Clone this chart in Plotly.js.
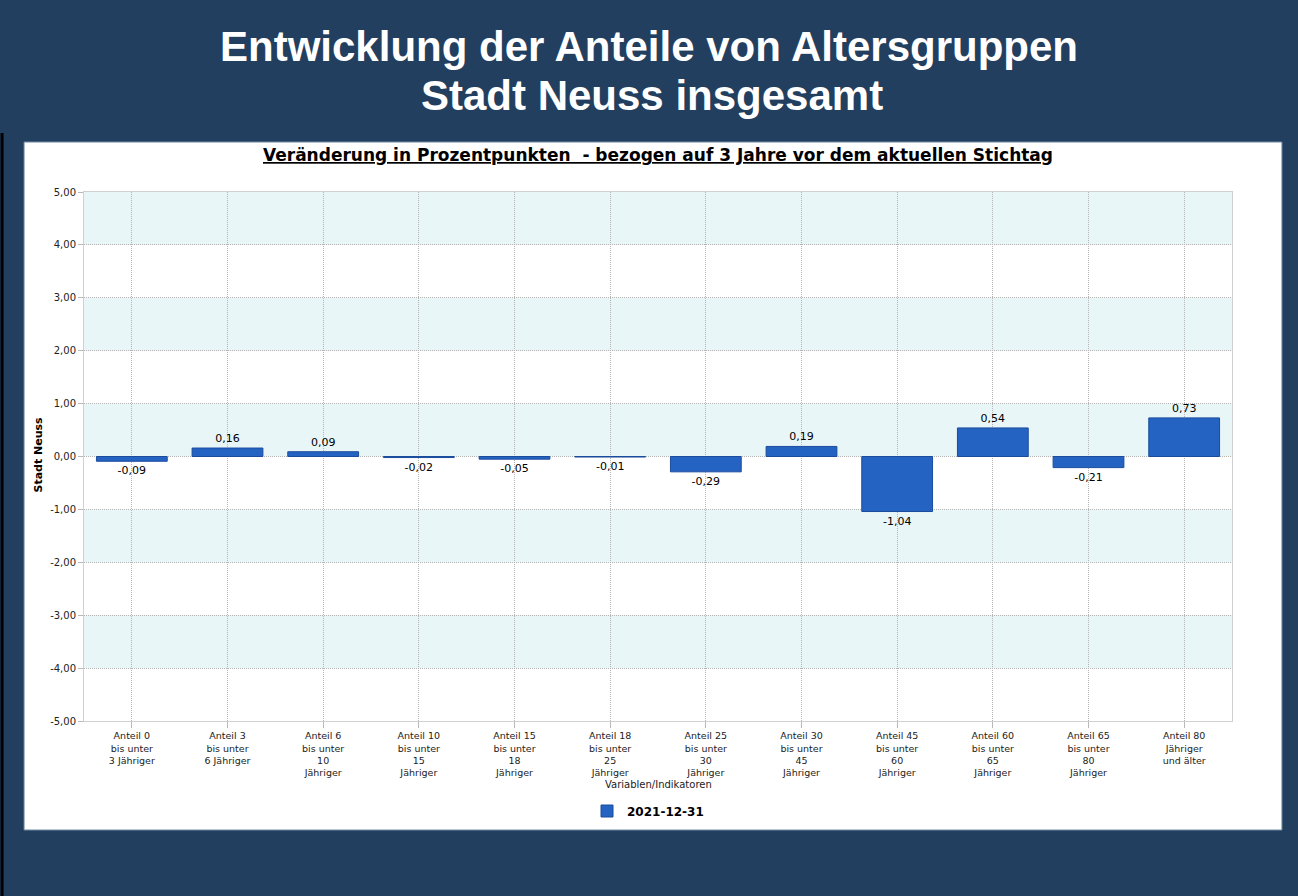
<!DOCTYPE html>
<html>
<head>
<meta charset="utf-8">
<script src="https://cdn.plot.ly/plotly-3.0.1.min.js"></script>
<style>
html,body{margin:0;padding:0;background:#233f5f;}
#chart{width:1298px;height:896px;}
</style>
</head>
<body>
<div id="chart"></div>
<script>
const categories = [
  "Anteil 0<br>bis unter<br>3 Jähriger",
  "Anteil 3<br>bis unter<br>6 Jähriger",
  "Anteil 6<br>bis unter<br>10<br>Jähriger",
  "Anteil 10<br>bis unter<br>15<br>Jähriger",
  "Anteil 15<br>bis unter<br>18<br>Jähriger",
  "Anteil 18<br>bis unter<br>25<br>Jähriger",
  "Anteil 25<br>bis unter<br>30<br>Jähriger",
  "Anteil 30<br>bis unter<br>45<br>Jähriger",
  "Anteil 45<br>bis unter<br>60<br>Jähriger",
  "Anteil 60<br>bis unter<br>65<br>Jähriger",
  "Anteil 65<br>bis unter<br>80<br>Jähriger",
  "Anteil 80<br>Jähriger<br>und älter"
];
const values = [-0.09, 0.16, 0.09, -0.02, -0.05, -0.01, -0.29, 0.19, -1.04, 0.54, -0.21, 0.73];
const seriesName = "2021-12-31";
const yTicks = [-5, -4, -3, -2, -1, 0, 1, 2, 3, 4, 5];
const yTickLabels = ["-5,00", "-4,00", "-3,00", "-2,00", "-1,00", "0,00", "1,00", "2,00", "3,00", "4,00", "5,00"];
const shadedBands = [[4, 5], [2, 3], [0, 1], [-2, -1], [-4, -3]];
const titleLine1 = "Entwicklung der Anteile von Altersgruppen";
const titleLine2 = "Stadt Neuss insgesamt";

const labels = values.map(v => v.toFixed(2).replace('.', ','));

const W = 1298, H = 896;
const L = 83.5, R = 1232.5, T = 192, B = 721;
const px = x => (x - L) / (R - L);
const py = y => (B - y) / (B - T);

const shapes = [
  {type: 'rect', xref: 'paper', yref: 'paper', x0: px(23.5), x1: px(1282.5), y0: py(830), y1: py(142),
   fillcolor: '#ffffff', line: {color: '#6f8aa3', width: 1}, layer: 'below'},
  {type: 'rect', xref: 'paper', yref: 'paper', x0: px(0), x1: px(3), y0: py(896), y1: py(133),
   fillcolor: '#000000', line: {width: 0}, layer: 'below'}
];
shadedBands.forEach(b => shapes.push({
  type: 'rect', xref: 'paper', yref: 'y', x0: 0, x1: 1, y0: b[0], y1: b[1],
  fillcolor: '#e8f6f7', line: {width: 0}, layer: 'below'
}));

const trace = {
  type: 'bar',
  x: categories,
  y: values,
  name: seriesName,
  text: labels,
  textposition: 'outside',
  cliponaxis: false,
  textfont: {family: 'DejaVu Sans', size: 11, color: '#000000'},
  marker: {color: '#2563c3', line: {color: '#1b4c9c', width: 1}},
  width: 0.74,
  showlegend: true,
  hoverinfo: 'x+y'
};

const gridDash = '1px,1px';

const layout = {
  width: W, height: H,
  paper_bgcolor: '#233f5f',
  plot_bgcolor: 'rgba(0,0,0,0)',
  margin: {l: L, r: W - R, t: T, b: H - B, pad: 0},
  title: {
    text: '<b>' + titleLine1 + '</b>',
    font: {family: 'Liberation Sans, Arial', size: 42, color: '#ffffff'},
    x: 0.5, xanchor: 'center', xref: 'container',
    y: 1 - 46 / H, yanchor: 'middle', yref: 'container'
  },
  xaxis: {
    type: 'category',
    showgrid: true, gridcolor: '#b4b4b4', griddash: gridDash, gridwidth: 1,
    showline: true, linecolor: '#d0d0d0', linewidth: 1, mirror: true,
    ticks: 'outside', ticklen: 6, tickcolor: '#b8b8b8',
    tickfont: {family: 'DejaVu Sans', size: 9.5, color: '#222222'},
    tickangle: 0,
    zeroline: false, fixedrange: true
  },
  yaxis: {
    range: [-5, 5],
    tickvals: yTicks, ticktext: yTickLabels,
    showgrid: true, gridcolor: '#b4b4b4', griddash: gridDash, gridwidth: 1,
    showline: true, linecolor: '#d0d0d0', linewidth: 1, mirror: true,
    ticks: 'outside', ticklen: 5, tickcolor: '#b8b8b8',
    tickfont: {family: 'DejaVu Sans', size: 10, color: '#222222'},
    zeroline: false, fixedrange: true
  },
  shapes: shapes,
  annotations: [
    {text: '<b>' + titleLine2 + '</b>',
     xref: 'paper', yref: 'paper', x: px(652), y: py(95), xanchor: 'center', yanchor: 'middle',
     showarrow: false, font: {family: 'Liberation Sans, Arial', size: 42, color: '#ffffff'}},
    {text: '<b><u>Veränderung in Prozentpunkten  - bezogen auf 3 Jahre vor dem aktuellen Stichtag</u></b>',
     xref: 'paper', yref: 'paper', x: px(658), y: py(155), xanchor: 'center', yanchor: 'middle',
     showarrow: false, font: {family: 'DejaVu Sans', size: 17, color: '#000000'}},
    {text: '<b>Stadt Neuss</b>', textangle: -90,
     xref: 'paper', yref: 'paper', x: px(37), y: py(455), xanchor: 'center', yanchor: 'middle',
     showarrow: false, font: {family: 'DejaVu Sans', size: 11, color: '#000000'}},
    {text: 'Variablen/Indikatoren',
     xref: 'paper', yref: 'paper', x: px(658), y: py(784), xanchor: 'center', yanchor: 'middle',
     showarrow: false, font: {family: 'DejaVu Sans', size: 10, color: '#222222'}}
  ],
  legend: {
    orientation: 'h', x: px(648), xanchor: 'center', y: py(811), yanchor: 'middle',
    font: {family: 'DejaVu Sans', size: 12, color: '#000000', weight: 'bold'},
    bgcolor: 'rgba(0,0,0,0)'
  },
  bargap: 0.26,
  showlegend: true
};

Plotly.newPlot('chart', [trace], layout, {displayModeBar: false, staticPlot: true});
</script>
</body>
</html>
